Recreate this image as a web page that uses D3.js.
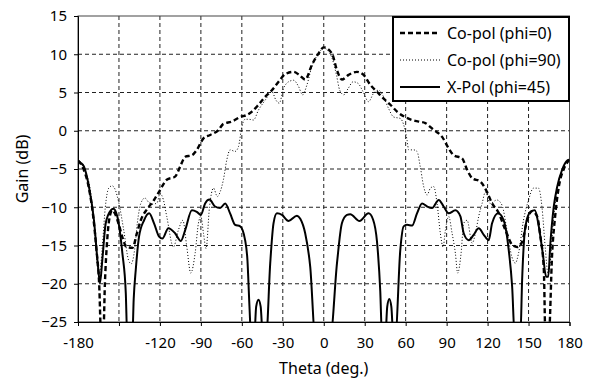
<!DOCTYPE html>
<html>
<head>
<meta charset="utf-8">
<script src="https://cdn.jsdelivr.net/npm/d3@7"></script>
<style>
  body { margin: 0; background: #fff; }
  text { font-family: "Noto Sans", sans-serif; fill: #000; }
</style>
</head>
<body>
<svg id="chart" width="592" height="380"></svg>
<script>
// theta (deg) / gain (dB)
const coPol0 = [
  [-180,-3.9],[-176,-5],[-172,-7.5],[-169,-11],[-166.5,-15.5],[-164.5,-20],[-163,-27],[-161.5,-27],
  [-160.3,-20],[-158.5,-14],[-156.5,-11],[-155,-10.4],[-153,-10.8],[-150,-12.3],[-147,-14.2],[-144.5,-15.2],
  [-140,-15.3],[-137,-13.5],[-134,-11.7],[-129.2,-10.2],[-124.3,-9.05],[-119.9,-7.75],[-115,-6.4],[-108.9,-6],
  [-105.2,-4.7],[-101.5,-3.4],[-96.6,-3.2],[-93,-2.5],[-88.1,-1],[-83.2,-0.55],[-77.1,0.1],[-73.5,0.9],
  [-67.3,1.2],[-61.2,1.8],[-56.3,2.06],[-52.6,2.5],[-47.8,3.4],[-42.9,4.45],[-38,5.3],[-33.1,6.4],
  [-28.2,7.4],[-22.1,7.7],[-18,7.3],[-13.6,6.7],[-8.7,8.6],[-3.8,10.1],[0,10.9],[6,10.1],[9.7,7.9],
  [13.3,6.7],[18.2,7.3],[24.3,7.7],[29.2,7.3],[34.1,6],[39,5.1],[43.9,4.2],[48.8,3.4],[53.7,2.5],
  [58.5,1.9],[64.7,1.4],[69.5,1.2],[74.4,1],[80.5,0.1],[86.7,-0.8],[91.5,-2.3],[95.2,-3.2],[101.3,-3.6],
  [105,-5.1],[108.7,-6.2],[114.7,-6.65],[120.1,-8.2],[123.3,-9.5],[127.7,-10.6],[133.1,-13],[138,-14.9],
  [141.7,-15.2],[145.3,-14.5],[149,-11.7],[152.6,-10.5],[156.3,-11.2],[158.7,-13.85],[161.2,-18.2],
  [162.4,-27],[164.8,-27],[167.3,-16],[169.7,-10.8],[172.2,-7.3],[175.8,-5],[180,-3.8]
];
const coPol90 = [
  [-180,-3.9],[-177,-4.4],[-175,-5.1],[-171,-7.75],[-168,-12.5],[-166,-17.3],[-164.2,-18.6],[-162.2,-15.2],
  [-160,-10],[-157.5,-7.5],[-155,-7.2],[-153,-7.6],[-150,-9.5],[-146.5,-13],[-143,-16.9],[-141,-17.4],
  [-138.5,-15.5],[-136.5,-12],[-134,-9.5],[-131,-8.8],[-128,-9.4],[-125,-9.6],[-122,-9.4],[-120,-8.2],
  [-117.5,-9],[-115,-11.2],[-110.1,-15.2],[-106.5,-13],[-103.2,-11.7],[-100.3,-15.2],[-97.4,-18.6],
  [-94.2,-16],[-91.8,-12.1],[-90,-11.2],[-88.1,-13.4],[-86.2,-15.4],[-83.7,-10],[-80.8,-7.5],[-77.9,-8.6],
  [-75.9,-8],[-73.5,-6.4],[-71,-3.8],[-68.6,-2.5],[-64.9,-2.7],[-62.5,-2.1],[-60,0.5],[-57.6,1.5],
  [-55,1.5],[-51.5,1.4],[-47.8,2.7],[-42.9,4],[-38,5.1],[-35,4],[-32.6,3.6],[-29.5,5.5],[-25.8,6.4],
  [-22.1,6.6],[-18.5,5.8],[-15.5,4.7],[-12.3,6],[-8.7,8.4],[-3.8,10.1],[0,10.8],[5.6,9.7],[9.3,7.3],
  [11.7,5.3],[14.7,4.7],[17.8,5.5],[21.5,6.4],[25.1,6.2],[28.8,5.1],[32.8,3.8],[36.5,4.9],[40.2,5.3],
  [43.8,4.45],[47.5,2.9],[51.2,1.8],[56.1,1.6],[59,0.5],[61,-1.2],[62.2,-2.5],[65.8,-2.5],[68.3,-2.7],
  [70.7,-4.7],[73.2,-7.3],[75.7,-8.4],[78.1,-7.5],[80.5,-7.3],[83,-9.5],[85.4,-13.4],[87.4,-15.2],
  [89.1,-13],[91.5,-11.2],[94,-13.4],[96.4,-16],[98.1,-18.6],[100.6,-16],[102.5,-12.1],[105,-11.7],
  [108.7,-14.7],[111.1,-13.4],[113.5,-11.2],[116,-9.5],[118.4,-8],[121.9,-9.5],[126.8,-9.05],[130.5,-9.7],
  [134.2,-13],[137.8,-16.5],[140.3,-17.3],[142.7,-16],[146.3,-11.7],[150,-9.05],[153.6,-7.5],[157.3,-7.5],
  [159.8,-9.9],[162.2,-15.2],[164.2,-18.6],[165.9,-17.3],[167.8,-12.5],[170.8,-7.75],[174.6,-5.1],[180,-3.8]
];
const xPol45 = [
  [-180,-3.9],[-178,-4.2],[-175.6,-4.7],[-172,-7.3],[-168.3,-11.7],[-165.3,-17.8],[-163.9,-19.9],
  [-162.2,-16.9],[-159.7,-12.1],[-156,-10.4],[-154.1,-10.2],[-151.2,-11.2],[-147.5,-16],[-145,-21.2],
  [-143.9,-27],[-140.2,-27],[-139.2,-22],[-137.7,-18.2],[-135.3,-13.85],[-131.6,-11.7],[-127.9,-10.8],
  [-124.3,-12.1],[-120.6,-13.85],[-118.2,-14.1],[-113.8,-12.75],[-108.9,-13.4],[-104.7,-14.4],[-101.5,-13],
  [-96.6,-10.4],[-93,-10.6],[-90,-11],[-86.9,-9.5],[-83.7,-9],[-79.6,-9.9],[-75.9,-10.1],[-72.2,-9.5],
  [-68.6,-10.8],[-64.9,-12.3],[-61.2,-12.5],[-57.6,-14.3],[-55.9,-16.9],[-54.4,-23],[-53.2,-27],
  [-50.9,-27],[-49.5,-23],[-47.8,-22.1],[-46.2,-23],[-44.6,-27],[-42.2,-27],[-39.2,-17.3],[-36.8,-12.1],
  [-34.3,-10.8],[-30.6,-11],[-25.8,-11.8],[-19.6,-11.1],[-17.2,-11.5],[-13.6,-13.4],[-9.9,-17.8],
  [-6.2,-27],[4.8,-27],[9.7,-17.3],[13.3,-12.1],[17,-11],[19.4,-10.9],[26.2,-11.8],[32.8,-10.8],
  [36.1,-11.6],[39,-14.5],[41.4,-21],[42.7,-27],[45.1,-27],[46.5,-23],[48,-22],[49.5,-23],[51,-27],
  [52.4,-27],[56.1,-15.5],[58.5,-12.5],[61,-12.3],[64.7,-12.4],[68.3,-10.8],[72,-9.5],[75.7,-9.9],
  [79.3,-10.1],[84.2,-9.05],[87.8,-9.9],[91.5,-10.8],[96.4,-10.4],[100.1,-11.2],[102.5,-13.4],
  [106.2,-14.3],[109.8,-13.6],[113.5,-12.75],[117.2,-13.6],[120.8,-14.3],[123.3,-12.1],[127.7,-10.8],
  [131.8,-11.7],[135.5,-15.6],[138,-20.4],[139.9,-27],[144,-27],[145.3,-19.5],[147.7,-12.5],[151.4,-10.6],
  [154.6,-10.4],[157.5,-12.5],[160.4,-16],[162.9,-19.1],[164.4,-19.1],[166,-14.7],[168.5,-9.9],
  [171,-7.3],[174.6,-5.1],[178.3,-3.9],[180,-3.8]
];

const xTicks = [-180,-150,-120,-90,-60,-30,0,30,60,90,120,150,180];
const xTickLabels = [-180,-120,-90,-60,-30,0,30,60,90,120,150,180];
const yTicks = [-25,-20,-15,-10,-5,0,5,10,15];
const seriesNames = ["Co-pol (phi=0)", "Co-pol (phi=90)", "X-Pol (phi=45)"];

const svg = d3.select("#chart");
const plotLeft = 78, plotTop = 16, plotRight = 569.5, plotBottom = 322;

const x = d3.scaleLinear().domain([-180, 180]).range([plotLeft, plotRight]);
const y = d3.scaleLinear().domain([-25, 15]).range([plotBottom, plotTop]);

// grid
svg.append("g").selectAll("line")
  .data(xTicks.slice(1, -1))
  .join("line")
  .attr("x1", d => x(d)).attr("x2", d => x(d))
  .attr("y1", plotTop).attr("y2", plotBottom)
  .attr("stroke", "#222").attr("stroke-dasharray", "4,3");
svg.append("g").selectAll("line")
  .data(yTicks.slice(1, -1))
  .join("line")
  .attr("y1", d => y(d)).attr("y2", d => y(d))
  .attr("x1", plotLeft).attr("x2", plotRight)
  .attr("stroke", "#222").attr("stroke-dasharray", "4,3");

svg.append("rect")
  .attr("x", plotLeft).attr("y", plotTop)
  .attr("width", plotRight - plotLeft).attr("height", plotBottom - plotTop)
  .attr("fill", "none").attr("stroke", "#444");

svg.append("clipPath").attr("id", "plot")
  .append("rect")
  .attr("x", plotLeft).attr("y", plotTop)
  .attr("width", plotRight - plotLeft).attr("height", plotBottom - plotTop);

const line = d3.line()
  .x(d => x(d[0]))
  .y(d => y(d[1]))
  .curve(d3.curveMonotoneX);

const styles = [
  { data: coPol0, width: 2.4, dash: "5,3" },
  { data: coPol90, width: 1, dash: "1,2" },
  { data: xPol45, width: 2, dash: null }
];

const curves = svg.append("g").attr("clip-path", "url(#plot)");
styles.forEach(s => {
  curves.append("path")
    .attr("d", line(s.data))
    .attr("fill", "none")
    .attr("stroke", "#000")
    .attr("stroke-width", s.width)
    .attr("stroke-dasharray", s.dash);
});

// axes
const xAxis = d3.axisBottom(x)
  .tickValues(xTicks)
  .tickFormat(d => xTickLabels.includes(d) ? d : "")
  .tickSize(4).tickPadding(11);
const yAxis = d3.axisLeft(y)
  .tickValues(yTicks)
  .tickSize(4).tickPadding(7);

const gx = svg.append("g").attr("transform", `translate(0,${plotBottom})`).call(xAxis);
const gy = svg.append("g").attr("transform", `translate(${plotLeft},0)`).call(yAxis);
[gx, gy].forEach(g => {
  g.select(".domain").attr("stroke", "#000");
  g.selectAll(".tick line").attr("stroke", "#000");
  g.selectAll("text").style("font-size", "15px").attr("fill", "#000");
});

svg.append("text")
  .attr("x", (plotLeft + plotRight) / 2).attr("y", 373.5)
  .attr("text-anchor", "middle")
  .style("font-size", "16px")
  .text("Theta (deg.)");
svg.append("text")
  .attr("transform", `translate(27.5,${(plotTop + plotBottom) / 2}) rotate(-90)`)
  .attr("text-anchor", "middle")
  .style("font-size", "16px")
  .text("Gain (dB)");

// legend
const legend = svg.append("g");
legend.append("rect")
  .attr("x", 393).attr("y", 17)
  .attr("width", 176).attr("height", 84)
  .attr("fill", "#fff").attr("stroke", "#000").attr("stroke-width", 2);
styles.forEach((s, i) => {
  const ly = 33 + i * 27;
  legend.append("line")
    .attr("x1", 400).attr("x2", 440)
    .attr("y1", ly).attr("y2", ly)
    .attr("stroke", "#000")
    .attr("stroke-width", s.width)
    .attr("stroke-dasharray", s.dash);
  legend.append("text")
    .attr("x", 447).attr("y", ly)
    .attr("dy", "0.35em")
    .style("font-size", "16px")
    .text(seriesNames[i]);
});
</script>
</body>
</html>
